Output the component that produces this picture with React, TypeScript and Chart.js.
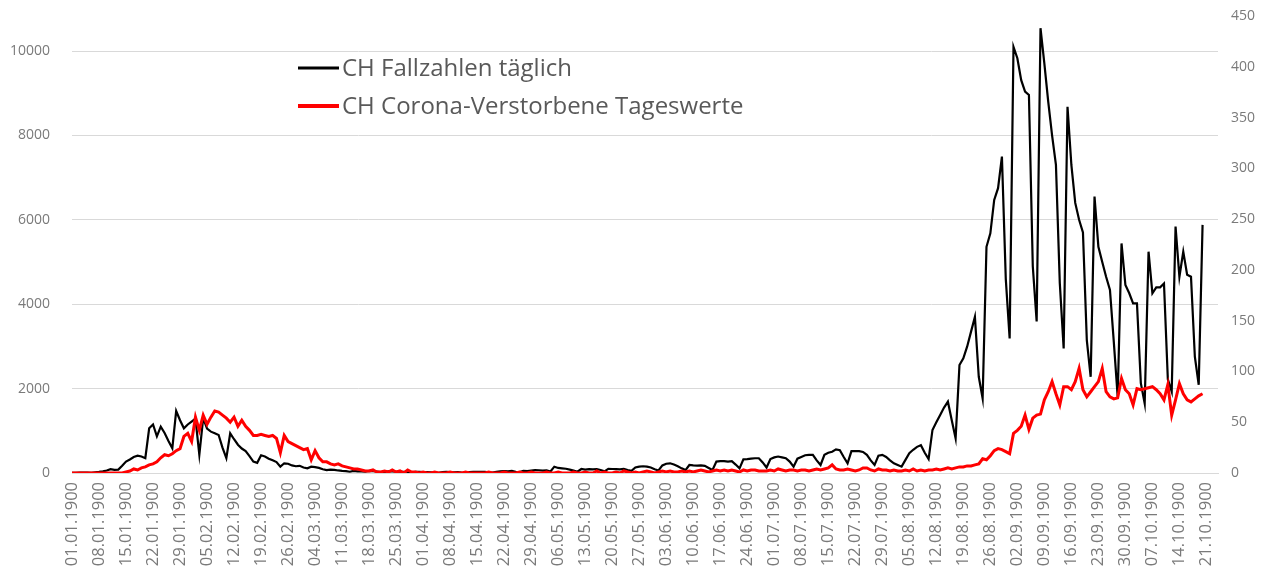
import React, { useEffect, useRef } from "react";
import { Chart, registerables } from "chart.js";

Chart.register(...registerables);

// Excel's 1900 date system (with its 29.02.1900)
const MONTH_LENGTHS_1900 = [31, 29, 31, 30, 31, 30, 31, 31, 30, 31, 30, 31];
const CATEGORY_COUNT = 298;
const LABEL_EVERY = 7;

function excelDateLabels(count: number): string[] {
  const out: string[] = [];
  let m = 0;
  let d = 1;
  for (let i = 0; i < count; i++) {
    out.push(`${String(d).padStart(2, "0")}.${String(m + 1).padStart(2, "0")}.1900`);
    d++;
    if (d > MONTH_LENGTHS_1900[m]) {
      d = 1;
      m++;
    }
  }
  return out;
}

const categories = excelDateLabels(CATEGORY_COUNT);

const seriesLabels = ["CH Fallzahlen täglich", "CH Corona-Verstorbene Tageswerte"];

// daily cases (left axis)
const fallzahlen = [
  1, 1, 8, 8, 10, 4, 15, 25, 40, 60,
  90, 75, 80, 170, 270, 320, 380, 410, 390, 350,
  1060, 1150, 870, 1100, 950, 760, 585, 1470, 1250, 1060,
  1150, 1220, 1290, 430, 1300, 1050, 980, 940, 900, 600,
  350, 940, 800, 670, 580, 520, 400, 270, 240, 420,
  390, 340, 300, 260, 150, 230, 220, 180, 160, 170,
  130, 110, 150, 140, 120, 90, 70, 80, 75, 60,
  50, 45, 30, 50, 40, 40, 30, 50, 45, 35,
  20, 15, 40, 35, 30, 30, 25, 15, 10, 25,
  30, 20, 20, 15, 10, 5, 20, 25, 20, 15,
  20, 10, 5, 20, 25, 30, 30, 25, 15, 10,
  30, 40, 45, 40, 50, 30, 20, 50, 45, 60,
  70, 65, 55, 60, 35, 150, 120, 110, 100, 80,
  60, 30, 95, 80, 90, 85, 95, 70, 40, 100,
  95, 90, 85, 100, 70, 50, 130, 150, 160, 150,
  130, 90, 60, 180, 220, 230, 200, 160, 110, 70,
  190, 180, 175, 180, 170, 120, 70, 270, 280, 280,
  270, 280, 200, 110, 325, 330, 340, 350, 350, 250,
  130, 330, 370, 390, 370, 350, 270, 150, 340, 380,
  420, 430, 430, 300, 190, 430, 480, 505, 560, 540,
  380, 230, 520, 520, 520, 500, 430, 300, 190, 410,
  430, 380, 300, 230, 190, 150, 310, 470, 550, 620,
  660, 480, 330, 1020, 1200, 1375, 1550, 1690, 1250, 820,
  2560, 2720, 3000, 3350, 3700, 2280, 1770, 5360, 5680, 6470,
  6750, 7500, 4600, 3190, 10100, 9830, 9310, 9040, 8960, 4900,
  3590, 10540, 9700, 8800, 8000, 7300, 4500, 2950, 8680, 7300,
  6400, 6000, 5700, 3150, 2280, 6550, 5360, 5000, 4650, 4340,
  3100, 1810, 5440, 4455, 4260, 4020, 4020, 2130, 1650, 5245,
  4260, 4400, 4400, 4490, 2220, 1930, 5840, 4650, 5245, 4700,
  4650, 2760, 2090, 5880,
];

// daily deaths (right axis)
const verstorbene = [
  0, 0, 0, 0, 0, 0, 0, 0, 0, 0,
  0, 0, 0, 0, 1, 2, 4, 3, 5, 6,
  8, 9, 11, 15, 18, 17, 19, 22, 24, 36,
  39, 31, 55, 42, 57, 48, 55, 61, 60, 57,
  54, 50, 55, 46, 52, 46, 42, 37, 37, 38,
  37, 36, 37, 34, 20, 37, 31, 29, 27, 25,
  23, 24, 13, 22, 15, 11, 11, 9, 8, 9,
  7, 6, 5, 4, 4, 3, 2, 2, 3, 1,
  1, 2, 1, 3, 1, 2, 0, 3, 1, 1,
  0, 1, 0, 0, 1, 0, 0, 0, 1, 0,
  0, 0, 1, 0, 0, 0, 0, 0, 1, 0,
  0, 0, 1, 0, 0, 0, 1, 0, 0, 1,
  0, 0, 0, 1, 0, 0, 1, 0, 0, 0,
  1, 0, 0, 1, 0, 0, 2, 0, 1, 0,
  0, 1, 0, 2, 1, 0, 1, 0, 1, 2,
  1, 0, 1, 2, 1, 2, 1, 1, 2, 1,
  2, 1, 2, 3, 2, 1, 2, 3, 2, 3,
  2, 3, 2, 1, 3, 2, 3, 3, 2, 2,
  2, 3, 2, 4, 3, 2, 3, 3, 2, 3,
  3, 2, 3, 4, 3, 4, 5, 8, 4, 3,
  3, 4, 3, 2, 3, 5, 5, 3, 2, 4,
  3, 3, 2, 3, 2, 2, 3, 2, 4, 2,
  3, 2, 3, 3, 4, 3, 4, 5, 4, 5,
  6, 6, 7, 7, 8, 9, 14, 13, 17, 22,
  24, 23, 21, 19, 39, 42, 46, 57, 43, 54,
  57, 58, 72, 80, 90, 78, 67, 85, 85, 82,
  90, 103, 82, 75, 80, 85, 90, 103, 80, 75,
  73, 74, 93, 82, 78, 67, 83, 82, 83, 84,
  85, 82, 78, 72, 87, 57, 72, 88, 78, 72,
  70, 73, 76, 78,
];

const leftTicks = [0, 2000, 4000, 6000, 8000, 10000];
const rightTicks = [0, 50, 100, 150, 200, 250, 300, 350, 400, 450];
const LEFT_MAX = 10830;
const RIGHT_MAX = 450;

const seriesColors = ["#000000", "#ff0000"];
const TEXT_GRAY = "#595959";
const TICK_GRAY = "#7a7a7a";
const GRID_GRAY = "#d9d9d9";
const FONT_FAMILY = '"Open Sans", "Noto Sans", sans-serif';

const insideLegend = {
  id: "insideLegend",
  afterDraw(chart: any) {
    const ctx = chart.ctx;
    const rows = [
      { label: seriesLabels[0], color: seriesColors[0], y: 68, lw: 3 },
      { label: seriesLabels[1], color: seriesColors[1], y: 106, lw: 4 },
    ];
    ctx.save();
    ctx.font = `24px ${FONT_FAMILY}`;
    ctx.textBaseline = "middle";
    ctx.textAlign = "left";
    for (const r of rows) {
      ctx.strokeStyle = r.color;
      ctx.lineWidth = r.lw;
      ctx.beginPath();
      ctx.moveTo(298, r.y);
      ctx.lineTo(339, r.y);
      ctx.stroke();
      ctx.fillStyle = TEXT_GRAY;
      ctx.fillText(r.label, 342, r.y + 1);
    }
    ctx.restore();
  },
};

function fixVertical(width: number) {
  return (axis: any) => {
    axis.width = width;
    axis.paddingTop = 0;
    axis.paddingBottom = 0;
  };
}

export default function App() {
  const canvasRef = useRef<HTMLCanvasElement | null>(null);

  useEffect(() => {
    if (!canvasRef.current) return;
    const chart = new Chart(canvasRef.current, {
      type: "line",
      data: {
        labels: categories,
        datasets: [
          {
            label: seriesLabels[0],
            data: fallzahlen,
            borderColor: seriesColors[0],
            backgroundColor: seriesColors[0],
            borderWidth: 2.2,
            pointRadius: 0,
            tension: 0,
            yAxisID: "y",
            order: 1,
          },
          {
            label: seriesLabels[1],
            data: verstorbene,
            borderColor: seriesColors[1],
            backgroundColor: seriesColors[1],
            borderWidth: 3,
            pointRadius: 0,
            tension: 0,
            yAxisID: "y1",
            order: 0,
          },
        ],
      },
      options: {
        responsive: false,
        animation: false,
        layout: { padding: { top: 16, left: 0, right: 0, bottom: 0 } },
        plugins: {
          legend: { display: false },
          tooltip: { enabled: false },
        },
        scales: {
          x: {
            type: "category",
            offset: false,
            grid: { display: false, drawTicks: false },
            border: { display: true, color: GRID_GRAY, width: 1 },
            ticks: {
              autoSkip: false,
              minRotation: 90,
              maxRotation: 90,
              padding: 9,
              color: TICK_GRAY,
              font: { family: FONT_FAMILY, size: 16.5 },
              callback: (_v: any, i: number) => (i % LABEL_EVERY === 0 ? categories[i] : ""),
            },
            afterFit: (axis: any) => {
              axis.height = 96;
              axis.paddingLeft = 0;
              axis.paddingRight = 0;
            },
          },
          y: {
            type: "linear",
            position: "left",
            min: 0,
            max: LEFT_MAX,
            grid: { color: GRID_GRAY, lineWidth: 1, drawTicks: false },
            border: { display: false },
            ticks: {
              padding: 22,
              color: TICK_GRAY,
              font: { family: FONT_FAMILY, size: 14 },
              callback: (v: any) => String(v),
            },
            afterBuildTicks: (axis: any) => {
              axis.ticks = leftTicks.map((v) => ({ value: v }));
            },
            afterFit: fixVertical(72),
          },
          y1: {
            type: "linear",
            position: "right",
            min: 0,
            max: RIGHT_MAX,
            grid: { display: false, drawOnChartArea: false, drawTicks: false },
            border: { display: false },
            ticks: {
              padding: 13,
              color: TICK_GRAY,
              font: { family: FONT_FAMILY, size: 14 },
              callback: (v: any) => String(v),
            },
            afterBuildTicks: (axis: any) => {
              axis.ticks = rightTicks.map((v) => ({ value: v }));
            },
            afterFit: fixVertical(47),
          },
        },
      },
      plugins: [insideLegend],
    });
    return () => chart.destroy();
  }, []);

  return (
    <div style={{ position: "fixed", left: 0, top: 0, width: 1265, height: 569, background: "#ffffff" }}>
      <canvas ref={canvasRef} width={1265} height={569} style={{ display: "block" }} />
    </div>
  );
}
